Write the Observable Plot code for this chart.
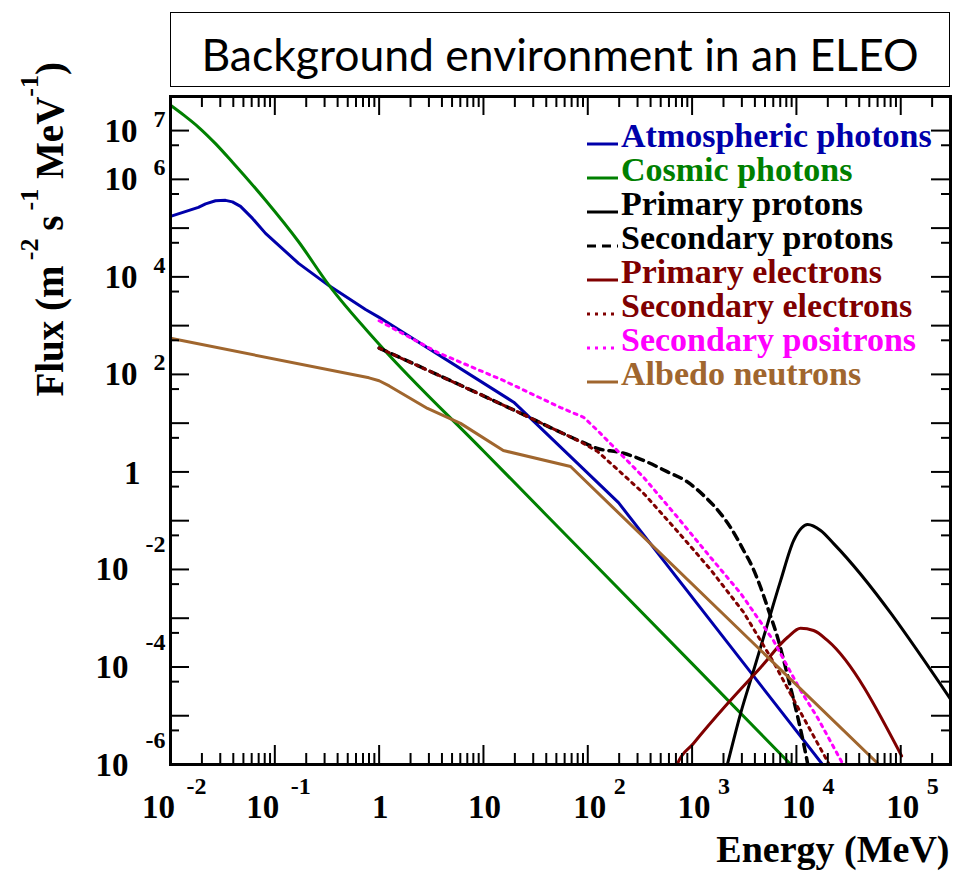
<!DOCTYPE html>
<html><head><meta charset="utf-8">
<script src="https://cdn.jsdelivr.net/npm/d3@7"></script>
<script src="https://cdn.jsdelivr.net/npm/@observablehq/plot@0.6"></script>
<style>
body{margin:0;background:#fff;}
#wrap{position:relative;width:956px;height:871px;overflow:hidden;}
#title{position:absolute;left:170px;top:12px;width:780px;height:75px;box-sizing:border-box;border:1.5px solid #000;padding-top:7px;display:flex;align-items:center;justify-content:center;font-family:Lato,"Open Sans",sans-serif;font-size:44.5px;color:#000;background:#fff;}
#legend{position:absolute;left:586px;top:0;font-family:"Liberation Serif",serif;font-weight:bold;font-size:34px;}
.row{position:absolute;left:0;white-space:nowrap;height:34px;width:370px;}
.row svg{position:absolute;left:0;top:0;}
.row span{position:absolute;left:35px;top:0;line-height:34px;}
</style></head><body>
<div id="wrap"><div id="chart"></div><div id="title">Background environment in an ELEO</div><div id="legend"></div></div>
<script>
// ---- data (energy in MeV, flux in m^-2 s^-1 MeV^-1) ----
const atmE = [0.01, 0.0185, 0.0217, 0.027, 0.0337, 0.0392, 0.0469, 0.0611, 0.0815, 0.169, 0.327, 0.741, 1, 19.5, 197, 17800, 20000];
const atmF = [1.74e5, 2.67e5, 3.14e5, 3.63e5, 3.71e5, 3.45e5, 2.79e5, 1.58e5, 7.80e4, 1.89e4, 6.70e3, 2.15e3, 1.48e3, 26.9, 0.234, 1.0e-6, 7.2e-7];

const cosE = [0.01, 0.0135, 0.0186, 0.027, 0.0393, 0.0815, 0.169, 0.33, 1, 10, 100, 1000, 10000];
const cosF = [3.31e7, 2.05e7, 1.17e7, 5.4e6, 2.24e6, 3.72e5, 5.25e4, 6.76e3, 417, 2.69, 0.0178, 1.17e-4, 7.6e-7];

const ppE = [2100, 2190, 2920, 3890, 5300, 7060, 9400, 11200, 12800, 17060, 22750, 300000];
const ppF = [7.4e-7, 1.05e-6, 1.12e-5, 8.5e-5, 7.76e-4, 5.9e-3, 0.0389, 0.0708, 0.0832, 0.063, 0.0339, 2.19e-5];

const spE = [1, 10, 19.5, 91.2, 124, 206, 343, 582, 906, 1288, 1875, 2340, 3120, 3800, 4540, 5410, 6610, 7530, 8790, 10230, 11750, 12800, 13500];
const spF = [347, 36.3, 18.6, 3.98, 3.02, 2.51, 1.72, 1.0, 0.62, 0.33, 0.14, 0.0724, 0.0245, 0.011, 4.27e-3, 1.45e-3, 3.98e-4, 1.41e-4, 3.8e-5, 1.0e-5, 2.63e-6, 1.05e-6, 5.6e-7];

const peE = [690, 726, 1030, 2190, 4540, 8240, 10960, 14600, 19950, 102000];
const peF = [7.9e-7, 1.05e-6, 2.7e-6, 1.78e-5, 9.8e-5, 4.07e-4, 6.2e-4, 5.6e-4, 3.47e-4, 1.5e-6];

const seE = [1, 10, 19.5, 85, 124, 195, 343, 726, 1500, 3120, 6030, 10960, 20400, 22000];
const seF = [347, 36.3, 18.6, 4.17, 2.63, 1.10, 0.363, 0.0603, 0.01, 1.32e-3, 1.26e-4, 1.17e-5, 1.05e-6, 7.9e-7];

const spoE = [1, 3.63, 15.5, 54.8, 91.2, 124, 343, 726, 1500, 2920, 6030, 10960, 15960, 27700, 30000];
const spoF = [1259, 282, 75.3, 20.9, 13.2, 7.08, 0.776, 0.117, 0.0178, 3.24e-3, 3.47e-4, 3.3e-5, 9.1e-6, 1.05e-6, 7e-7];

const anE = [0.01, 0.8, 1, 1.25, 2.91, 6.03, 15.5, 68.4, 61700, 65000];
const anF = [550, 85, 74, 58, 20, 9.9, 2.75, 1.29, 1.0e-6, 8.9e-7];

const seriesNames = ["Atmospheric photons", "Cosmic photons", "Primary protons", "Secondary protons",
  "Primary electrons", "Secondary electrons", "Secondary positrons", "Albedo neutrons"];

// tick labels
const xTickVals = [1e-2, 1e-1, 1, 10, 1e2, 1e3, 1e4, 1e5];
const xTickBase = ["10", "10", "1", "10", "10", "10", "10", "10"];
const xTickExp  = ["-2", "-1", "", "", "2", "3", "4", "5"];
const yTickVals = [1e7, 1e6, 1e4, 1e2, 1, 1e-2, 1e-4, 1e-6];
const yTickBase = ["10", "10", "10", "10", "1", "10", "10", "10"];
const yTickExp  = ["7", "6", "4", "2", "", "-2", "-4", "-6"];
const xDecades = [1e-2, 1e-1, 1, 10, 1e2, 1e3, 1e4, 1e5];
const yDecades = [1e-6, 1e-5, 1e-4, 1e-3, 1e-2, 1e-1, 1, 10, 1e2, 1e3, 1e4, 1e5, 1e6, 1e7];

// ---- styles ----
const styles = [
  {E: atmE, F: atmF, color: "#0000aa", dash: null, w: 3, curve: "linear"},
  {E: cosE, F: cosF, color: "#008000", dash: null, w: 3, curve: "monotone-x"},
  {E: ppE, F: ppF, color: "#000000", dash: null, w: 3, curve: "monotone-x"},
  {E: spE, F: spF, color: "#000000", dash: "8,6", w: 3.5, curve: "monotone-x"},
  {E: peE, F: peF, color: "#800000", dash: null, w: 3, curve: "monotone-x"},
  {E: seE, F: seF, color: "#800000", dash: "3,5", w: 3, curve: "linear"},
  {E: spoE, F: spoF, color: "#ff00ff", dash: "3,5", w: 3, curve: "linear"},
  {E: anE, F: anF, color: "#a0662e", dash: null, w: 3, curve: "linear"}
];

const W = 956, H = 871, mL = 170, mR = 6, mT = 96, mB = 107;
const fw = W - mL - mR, fh = H - mT - mB;
const font = "Liberation Serif";

const xMinor = xDecades.flatMap(d => [2,3,4,5,6,7,8,9].map(m => m * d)).filter(v => v < 2.99e5);
const yMinor = yDecades.map(d => 5 * d).filter(v => v < 4.9e7);

const xLab = xTickVals.map((v, i) => ({v, base: xTickBase[i], exp: xTickExp[i]}));
const yLab = yTickVals.map((v, i) => ({v, base: yTickBase[i], exp: yTickExp[i]}));
const isNeg = d => d.exp.startsWith("-");
const isPos = d => d.exp !== "" && !isNeg(d);
const isNone = d => d.exp === "";

const txt = {fontFamily: font, fontWeight: "bold", fill: "black", lineAnchor: "bottom"};

const marks = [];
styles.forEach(s => {
  const data = s.E.map((e, i) => ({E: e, F: s.F[i]}));
  marks.push(Plot.line(data, {x: "E", y: "F", stroke: s.color, strokeWidth: s.w,
    strokeDasharray: s.dash, curve: s.curve, clip: true}));
});
marks.push(
  Plot.tickX(xDecades, {x: d => d, insetTop: fh - 19, stroke: "black", strokeWidth: 2}),
  Plot.tickX(xDecades, {x: d => d, insetBottom: fh - 19, stroke: "black", strokeWidth: 2}),
  Plot.tickX(xMinor, {x: d => d, insetTop: fh - 11, stroke: "black", strokeWidth: 2}),
  Plot.tickX(xMinor, {x: d => d, insetBottom: fh - 11, stroke: "black", strokeWidth: 2}),
  Plot.tickY(yDecades, {y: d => d, insetRight: fw - 19, stroke: "black", strokeWidth: 2}),
  Plot.tickY(yDecades, {y: d => d, insetLeft: fw - 19, stroke: "black", strokeWidth: 2}),
  Plot.tickY(yMinor, {y: d => d, insetRight: fw - 9, stroke: "black", strokeWidth: 2}),
  Plot.tickY(yMinor, {y: d => d, insetLeft: fw - 9, stroke: "black", strokeWidth: 2}),
  Plot.frame({stroke: "black", strokeWidth: 3})
);
marks.push(
  Plot.text(xLab.filter(isNeg), {...txt, x: "v", text: "base", frameAnchor: "bottom", dx: -12, dy: 53, textAnchor: "middle", fontSize: 33}),
  Plot.text(xLab.filter(isNeg), {...txt, x: "v", text: "exp", frameAnchor: "bottom", dx: 16, dy: 29, textAnchor: "start", fontSize: 24}),
  Plot.text(xLab.filter(isPos), {...txt, x: "v", text: "base", frameAnchor: "bottom", dx: 2, dy: 53, textAnchor: "middle", fontSize: 33}),
  Plot.text(xLab.filter(isPos), {...txt, x: "v", text: "exp", frameAnchor: "bottom", dx: 26, dy: 29, textAnchor: "start", fontSize: 24}),
  Plot.text(xLab.filter(isNone), {...txt, x: "v", text: "base", frameAnchor: "bottom", dx: 1, dy: 53, textAnchor: "middle", fontSize: 33})
);
marks.push(
  Plot.text(yLab.filter(isPos), {...txt, y: "v", text: "base", frameAnchor: "left", dx: -33, dy: 11, textAnchor: "end", fontSize: 33}),
  Plot.text(yLab.filter(isPos), {...txt, y: "v", text: "exp", frameAnchor: "left", dx: -5, dy: -4, textAnchor: "end", fontSize: 24}),
  Plot.text(yLab.filter(isNeg), {...txt, y: "v", text: "base", frameAnchor: "left", dx: -42, dy: 11, textAnchor: "end", fontSize: 33}),
  Plot.text(yLab.filter(isNeg), {...txt, y: "v", text: "exp", frameAnchor: "left", dx: -5, dy: -17, textAnchor: "end", fontSize: 24}),
  Plot.text(yLab.filter(isNone), {...txt, y: "v", text: "base", frameAnchor: "left", dx: -30, dy: 12, textAnchor: "end", fontSize: 33})
);
marks.push(Plot.text(["Energy (MeV)"], {...txt, text: d => d, frameAnchor: "bottom-right", dx: -1, dy: 97, textAnchor: "end", fontSize: 38}));

const chart = Plot.plot({
  width: W, height: H,
  marginLeft: mL, marginRight: mR, marginTop: mT, marginBottom: mB,
  x: {type: "log", domain: [1e-2, 3e5], axis: null},
  y: {type: "log", domain: [1e-6, 5e7], axis: null},
  style: {background: "white", overflow: "visible"},
  marks
});
document.getElementById("chart").appendChild(chart);

// y axis title with superscripts
const yt = d3.select(chart).append("text")
  .attr("transform", "translate(63,62) rotate(-90)")
  .attr("text-anchor", "end")
  .attr("font-family", font).attr("font-weight", "bold").attr("font-size", 39).attr("fill", "black");
const parts = [["Flux (m", 0, 39], ["\u2009-2", -25, 26], ["\u2009s", 25, 39], ["\u2009-1", -25, 26], [" MeV", 25, 39], ["-1", -25, 26], [")", 25, 39]];
parts.forEach(([t, dy, fs]) => yt.append("tspan").attr("dy", dy).attr("font-size", fs).text(t));

// legend
const leg = document.getElementById("legend");
seriesNames.forEach((name, i) => {
  const s = styles[i];
  const row = document.createElement("div");
  row.className = "row";
  row.style.top = (119 + 34 * i) + "px";
  const legDash = s.dash === "8,6" ? "9,6" : s.dash;
  row.innerHTML = `<svg width="33" height="34"><line x1="1" x2="32" y1="25" y2="25" stroke="${s.color}" stroke-width="3" ${legDash ? `stroke-dasharray="${legDash}"` : ""}/></svg><span style="color:${s.color}">${name}</span>`;
  leg.appendChild(row);
});
</script>
</body></html>
